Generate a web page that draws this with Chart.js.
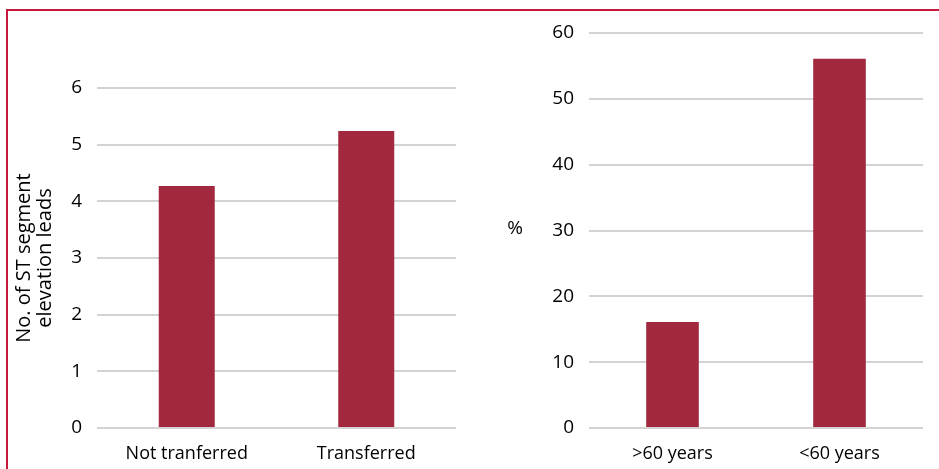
<!DOCTYPE html>
<html>
<head>
<meta charset="utf-8">
<script src="https://cdn.jsdelivr.net/npm/chart.js@4"></script>
<style>
  body { margin: 0; background: #fff; }
  #pagina { position: relative; width: 939px; height: 469px; overflow: hidden; }
  #moldura {
    position: absolute; left: 6px; top: 9px; width: 1000px; height: 600px;
    border-left: 2px solid #c41a3b; border-top: 2px solid #c41a3b;
  }
  #box1 { position: absolute; left: 0; top: 0; width: 470px; height: 469px; }
  #box2 { position: absolute; left: 470px; top: 0; width: 469px; height: 469px; }
</style>
</head>
<body>
<div id="pagina">
  <div id="moldura"></div>
  <div id="box1"><canvas id="grafico1"></canvas></div>
  <div id="box2"><canvas id="grafico2"></canvas></div>
</div>
<script>
// dados
const categoriasLeads = ['Not tranferred', 'Transferred'];
const valoresLeads = [4.27, 5.24];
const tituloLeads = ['No. of ST segment', 'elevation leads'];
const maxLeads = 6;
const passoLeads = 1;

const categoriasIdade = ['>60 years', '<60 years'];
const valoresIdade = [16.1, 56.1];
const tituloIdade = '%';
const maxIdade = 60;
const passoIdade = 10;

const corBarra = '#a1283f';
const corGrade = '#d3d3d3';
const corTexto = '#000';
const fonte = "'Open Sans', 'Noto Sans', Arial, sans-serif";

Chart.defaults.font.family = fonte;
Chart.defaults.color = corTexto;

function opcoesGrafico(max, passo, larguraEixo, padding, titulo) {
    return {
        responsive: true,
        maintainAspectRatio: false,
        animation: false,
        layout: { padding: padding },
        scales: {
            x: {
                grid: { display: false },
                border: { display: false },
                ticks: { padding: 7, font: { size: 18 }, color: corTexto },
                afterFit: function (scale) { scale.height = 41; }
            },
            y: {
                min: 0,
                max: max,
                grid: { color: corGrade, lineWidth: 2, drawTicks: false },
                border: { display: false },
                ticks: { stepSize: passo, padding: 15, font: { size: 19 }, color: corTexto },
                title: titulo,
                afterFit: function (scale) { scale.width = larguraEixo; }
            }
        },
        plugins: {
            legend: { display: false },
            tooltip: { enabled: false }
        }
    };
}

// GRÁFICO 1: número de derivações
new Chart(document.getElementById('grafico1'), {
    type: 'bar',
    data: {
        labels: categoriasLeads,
        datasets: [
            {
                data: valoresLeads,
                backgroundColor: corBarra,
                barPercentage: 0.312,
                categoryPercentage: 1
            }
        ]
    },
    options: opcoesGrafico(maxLeads, passoLeads, 97, { top: 88, right: 14, left: 0, bottom: 0 }, {
        display: true,
        text: tituloLeads,
        color: corTexto,
        font: { size: 20, lineHeight: 1.05 },
        padding: { top: 14, bottom: 0 }
    })
});

// texto "%" na horizontal, ao lado do eixo
let pluginTituloHorizontal = {
    id: 'tituloHorizontal',
    afterDraw: function (chart) {
        let ctx = chart.ctx;
        let area = chart.chartArea;
        ctx.save();
        ctx.font = '19px ' + fonte;
        ctx.fillStyle = corTexto;
        ctx.textAlign = 'center';
        ctx.textBaseline = 'middle';
        ctx.fillText(tituloIdade, 45, (area.top + area.bottom) / 2 - 2);
        ctx.restore();
    }
};

// GRÁFICO 2: idade
new Chart(document.getElementById('grafico2'), {
    type: 'bar',
    data: {
        labels: categoriasIdade,
        datasets: [
            {
                data: valoresIdade,
                backgroundColor: corBarra,
                barPercentage: 0.315,
                categoryPercentage: 1
            }
        ]
    },
    options: opcoesGrafico(maxIdade, passoIdade, 119, { top: 33, right: 16, left: 0, bottom: 0 }, { display: false }),
    plugins: [pluginTituloHorizontal]
});
</script>
</body>
</html>
